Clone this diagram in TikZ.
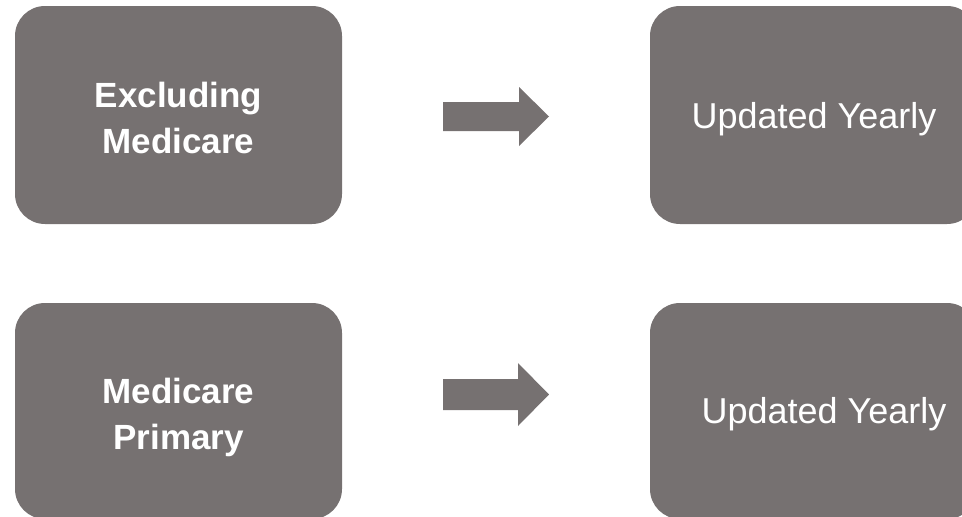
\documentclass[tikz,border=0pt]{standalone}
\usepackage{fontspec}
\setmainfont{Liberation Sans}
\definecolor{boxgrey}{RGB}{118,113,113}
\tikzset{
  card/.style={fill=boxgrey, draw=none, rounded corners=30pt, inner sep=0pt},
  cardtext/.style={text=white, inner sep=0pt, anchor=north, align=center},
  boldtext/.style={cardtext, font=\fontsize{35}{45.5}\selectfont\bfseries},
  plaintext/.style={cardtext, font=\fontsize{36}{43}\selectfont},
  blockarrow/.style={fill=boxgrey, draw=none}
}
\begin{document}
\begin{tikzpicture}[x=1pt,y=-1pt]
\useasboundingbox (0,0) rectangle (962,517);
\clip (0,0) rectangle (962,517);
% boxes
\path[card] (15,6) rectangle (342,224);
\path[card] (650,6) rectangle (977,224);
\path[card] (15,303) rectangle (342,519);
\path[card] (650,303) rectangle (977,519);
% texts
\node[boldtext] (t1) at (178.5,82) {Excluding\\Medicare};
\node[plaintext] (t2) at (814,102.5) {Updated Yearly};
\node[boldtext] (t3) at (178.5,378) {Medicare\\Primary};
\node[plaintext] (t4) at (824,397.5) {Updated Yearly};
% block arrows
\path[blockarrow] (443,102) -- (519,102) -- (519,87) -- (549,116.5) -- (519,146) -- (519,131) -- (443,131) -- cycle;
\path[blockarrow] (443,379) -- (518,379) -- (518,363) -- (549,394.5) -- (518,426) -- (518,410) -- (443,410) -- cycle;
\end{tikzpicture}
\end{document}
